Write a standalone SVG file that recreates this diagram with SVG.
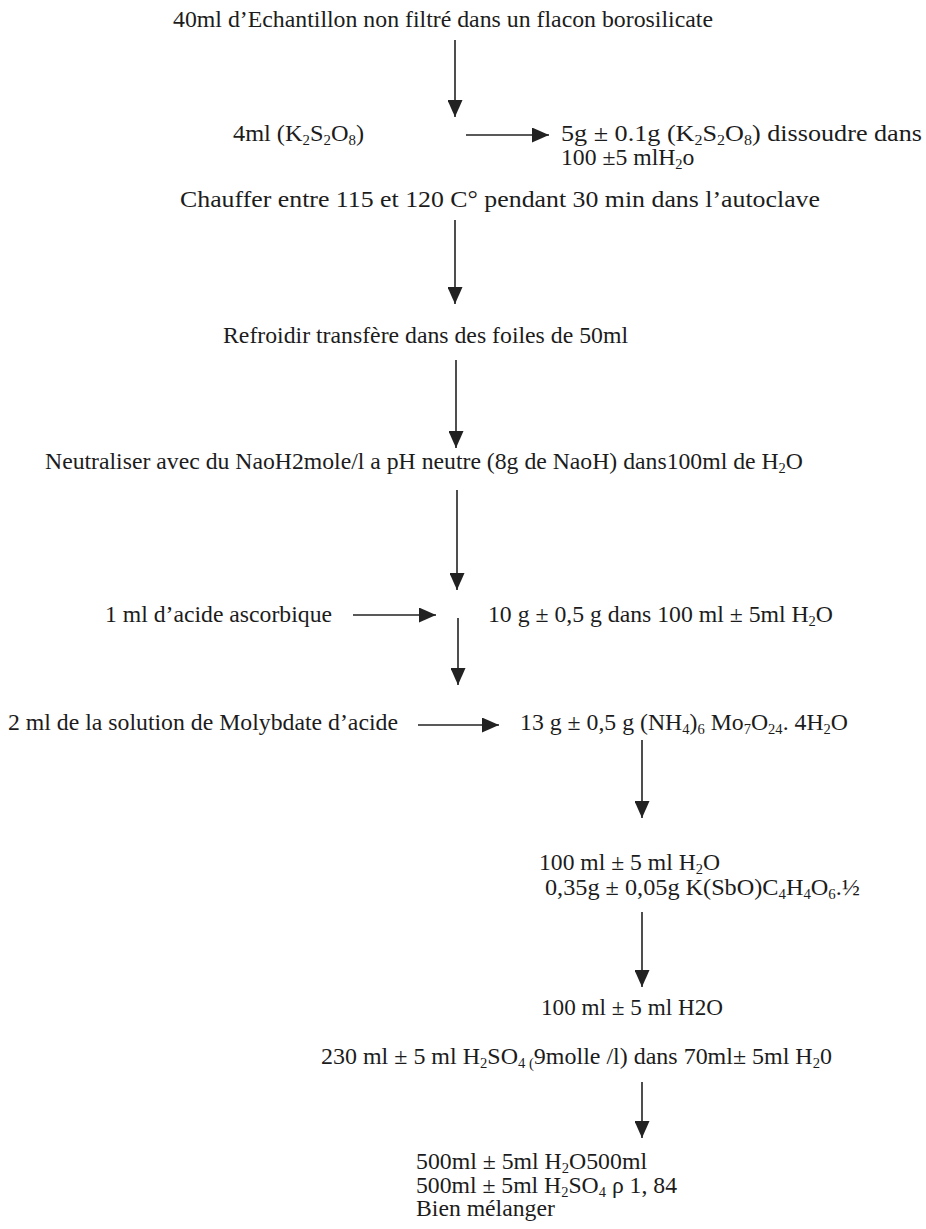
<svg xmlns="http://www.w3.org/2000/svg" width="926" height="1229" viewBox="0 0 926 1229">
<style>
text{font-family:"Liberation Serif","Times New Roman",serif;font-size:23.7px;fill:#1c1c1c}
.sub{font-size:14.5px;baseline-shift:-3.5px}
.conn line{stroke:#222;stroke-width:1.6;fill:none;marker-end:url(#ah)}
</style>
<defs>
<marker id="ah" viewBox="0 0 17 15" refX="17" refY="7.5" markerWidth="17" markerHeight="15" markerUnits="userSpaceOnUse" orient="auto">
<path d="M0,0 L17,7.5 L0,15 z" fill="#222"/>
</marker>
</defs>
<rect width="926" height="1229" fill="#fff"/>
<g class="conn" id="connectors">
<line x1="455" y1="40" x2="455" y2="117"/>
<line x1="466" y1="135" x2="549" y2="135"/>
<line x1="455" y1="220" x2="455" y2="304"/>
<line x1="456" y1="360" x2="456" y2="448"/>
<line x1="457" y1="490" x2="457" y2="590"/>
<line x1="353" y1="615" x2="436" y2="615"/>
<line x1="458" y1="618" x2="458" y2="685"/>
<line x1="418" y1="725" x2="499" y2="725"/>
<line x1="642" y1="740" x2="642" y2="818"/>
<line x1="642" y1="912" x2="642" y2="987"/>
<line x1="642" y1="1082" x2="642" y2="1138"/>
</g>
<g id="n1"><text x="173" y="27" textLength="540" lengthAdjust="spacingAndGlyphs">40ml d’Echantillon non filtré dans un flacon borosilicate</text></g>
<g id="n2"><text x="233" y="141" textLength="131" lengthAdjust="spacingAndGlyphs">4ml (K<tspan class="sub">2</tspan>S<tspan class="sub">2</tspan>O<tspan class="sub">8</tspan>)</text></g>
<g id="n3"><text x="561" y="141" textLength="361" lengthAdjust="spacingAndGlyphs">5g ± 0.1g (K<tspan class="sub">2</tspan>S<tspan class="sub">2</tspan>O<tspan class="sub">8</tspan>) dissoudre dans</text>
<text x="561" y="165">100 ±5 mlH<tspan class="sub">2</tspan>o</text></g>
<g id="n4"><text x="180" y="207" textLength="640" lengthAdjust="spacingAndGlyphs">Chauffer entre 115 et 120 C° pendant 30 min dans l’autoclave</text></g>
<g id="n5"><text x="223" y="343" textLength="405" lengthAdjust="spacingAndGlyphs">Refroidir transfère dans des foiles de 50ml</text></g>
<g id="n6"><text x="45" y="469" textLength="758" lengthAdjust="spacingAndGlyphs">Neutraliser avec du NaoH2mole/l a pH neutre (8g de NaoH) dans100ml de H<tspan class="sub">2</tspan>O</text></g>
<g id="n7"><text x="105" y="622" textLength="227" lengthAdjust="spacingAndGlyphs">1 ml d’acide ascorbique</text></g>
<g id="n8"><text x="488" y="622" textLength="345" lengthAdjust="spacingAndGlyphs">10 g ± 0,5 g dans 100 ml ± 5ml H<tspan class="sub">2</tspan>O</text></g>
<g id="n9"><text x="8" y="730" textLength="390" lengthAdjust="spacingAndGlyphs">2 ml de la solution de Molybdate d’acide</text></g>
<g id="n10"><text x="520" y="730" textLength="328" lengthAdjust="spacingAndGlyphs">13 g ± 0,5 g (NH<tspan class="sub">4</tspan>)<tspan class="sub">6</tspan> Mo<tspan class="sub">7</tspan>O<tspan class="sub">24</tspan>. 4H<tspan class="sub">2</tspan>O</text></g>
<g id="n11"><text x="539" y="870" textLength="181" lengthAdjust="spacingAndGlyphs">100 ml ± 5 ml H<tspan class="sub">2</tspan>O</text>
<text x="545" y="895" textLength="315" lengthAdjust="spacingAndGlyphs">0,35g ± 0,05g K(SbO)C<tspan class="sub">4</tspan>H<tspan class="sub">4</tspan>O<tspan class="sub">6</tspan>.½</text></g>
<g id="n12"><text x="541" y="1015" textLength="182" lengthAdjust="spacingAndGlyphs">100 ml ± 5 ml H2O</text></g>
<g id="n13"><text x="321" y="1064" textLength="511" lengthAdjust="spacingAndGlyphs">230 ml ± 5 ml H<tspan class="sub">2</tspan>SO<tspan class="sub">4 (</tspan>9molle /l) dans 70ml± 5ml H<tspan class="sub">2</tspan>0</text></g>
<g id="n14"><text x="416" y="1169" textLength="231" lengthAdjust="spacingAndGlyphs">500ml ± 5ml H<tspan class="sub">2</tspan>O500ml</text>
<text x="416" y="1193" textLength="261" lengthAdjust="spacingAndGlyphs">500ml ± 5ml H<tspan class="sub">2</tspan>SO<tspan class="sub">4</tspan> ρ 1, 84</text>
<text x="416" y="1216">Bien mélanger</text></g>
</svg>
